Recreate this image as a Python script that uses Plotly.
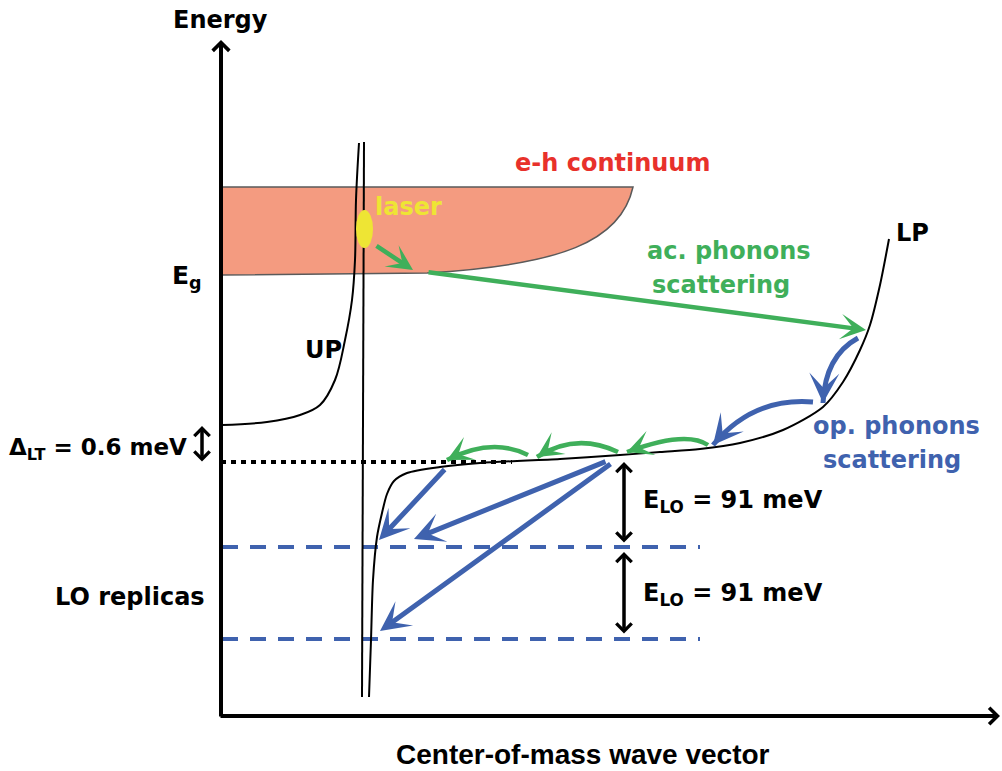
import math
import plotly.graph_objects as go

W, H = 1002, 771

BLUE = "#3F62AE"
GREEN = "#3FAF5A"
RED = "#E8312B"
YELLOW = "#EEE534"
BAND_FILL = "#F49B80"
BAND_EDGE = "#5A5A5A"
FONT = "DejaVu Sans"

# ---- axes (schematic coordinates, y grows downward) ----
axis_x0, axis_y0 = 221, 716
axis_y_tip = 40
axis_x_tip = 1000

# ---- polariton branches ----
up_x = [222, 267, 300, 320, 335, 345, 352, 355, 356, 359]
up_y = [425, 422, 415, 405, 380, 340, 300, 260, 200, 143]

photon_x = [364, 362]
photon_y = [142, 697]

lp_x = [369, 371, 373, 377, 382, 387, 394, 407, 440, 480, 560, 620, 660, 700,
        740, 783, 823, 843, 860, 870, 880, 889]
lp_y = [697, 640, 580, 537, 513, 494, 481, 473, 467, 463, 459, 455, 452, 449,
        443, 430, 407, 382, 350, 325, 285, 239]

# ---- e-h continuum band ----
band_top = 187
band_left = 221
band_right = 633
band_bottom_left = 275
band_edge_ctrl = [(621, 242), (560, 265)]
band_edge_end = (427, 273)

# ---- levels ----
exciton_level = 462
exciton_dots_end = 512
lo_levels = [547, 639]
lo_x = [222, 700]

# ---- double arrows (x, y_top, y_bottom) ----
delta_arrow = (202, 426, 463)
elo_arrows = [(624, 462, 544), (624, 552, 635)]

# ---- straight scattering arrows (x0, y0, x1, y1) ----
green_straight = [(375, 245, 413, 270), (427, 272, 866, 330)]
blue_straight = [(446, 468, 379, 540), (607, 461, 414, 539), (612, 463, 380, 631)]

# ---- curved scattering arrows (start, control, end) ----
blue_curved = [((858, 338), (825, 356), (823, 403)),
               ((813, 402), (753, 397), (713, 445))]
green_curved = [((708, 445), (686, 430), (627, 452)),
                ((618, 452), (576, 432), (537, 457)),
                ((528, 455), (492, 437), (447, 460))]

# ---- laser spot ----
laser_spot = (356, 210, 373, 248)

# ---- text labels ----
label_text = [
    "<b>Energy</b>",
    "<b>e-h continuum</b>",
    "<b>laser</b>",
    "<b>ac. phonons</b>",
    "<b>scattering</b>",
    "<b>LP</b>",
    "<b>UP</b>",
    "<b>E<sub>g</sub></b>",
    "<b>op. phonons</b>",
    "<b>scattering</b>",
    "<b>Δ<sub>LT</sub> = 0.6 meV</b>",
    "<b>E<sub>LO</sub> = 91 meV</b>",
    "<b>E<sub>LO</sub> = 91 meV</b>",
    "<b>LO replicas</b>",
]
label_x = [220, 612, 408, 729, 721, 912, 323, 187, 896, 892, 98, 733, 733, 130]
label_y = [20, 163, 207, 251, 285, 233, 350, 277, 426, 460, 449, 501, 594, 597]
label_color = ["black", RED, YELLOW, GREEN, GREEN, "black", "black", "black",
               BLUE, BLUE, "black", "black", "black", "black"]
label_size = [24, 24, 24, 24, 24, 24, 24, 25, 24, 24, 23, 24, 24, 24]

xaxis_title = "<b>Center-of-mass wave vector</b>"
xaxis_title_pos = (583, 754)

fig = go.Figure()

# continuum band
band_path = (f"M{band_left},{band_top} L{band_right},{band_top} "
             f"C{band_edge_ctrl[0][0]},{band_edge_ctrl[0][1]} "
             f"{band_edge_ctrl[1][0]},{band_edge_ctrl[1][1]} "
             f"{band_edge_end[0]},{band_edge_end[1]} "
             f"L{band_left},{band_bottom_left} Z")
fig.add_shape(type="path", path=band_path, fillcolor=BAND_FILL,
              line=dict(color=BAND_EDGE, width=1.5), layer="below")

# laser spot
fig.add_shape(type="circle", x0=laser_spot[0], y0=laser_spot[1],
              x1=laser_spot[2], y1=laser_spot[3],
              fillcolor=YELLOW, line=dict(width=0))

# LO replica levels
for lv in lo_levels:
    fig.add_trace(go.Scatter(x=lo_x, y=[lv, lv], mode="lines",
                             line=dict(color=BLUE, width=4, dash="16px,12px")))

# exciton level (dotted)
fig.add_trace(go.Scatter(x=[axis_x0, exciton_dots_end],
                         y=[exciton_level, exciton_level], mode="lines",
                         line=dict(color="black", width=4, dash="5px,5px")))

# dispersion branches
fig.add_trace(go.Scatter(x=up_x, y=up_y, mode="lines",
                         line=dict(color="black", width=2, shape="spline")))
fig.add_trace(go.Scatter(x=photon_x, y=photon_y, mode="lines",
                         line=dict(color="black", width=2)))
fig.add_trace(go.Scatter(x=lp_x, y=lp_y, mode="lines",
                         line=dict(color="black", width=2, shape="spline",
                                   smoothing=0.8)))


def arrow(x0, y0, x1, y1, color, width, head=3, size=0.8, both=False):
    fig.add_annotation(x=x1, y=y1, ax=x0, ay=y0, xref="x", yref="y",
                       axref="x", ayref="y", text="", showarrow=True,
                       arrowhead=head, arrowsize=size, arrowwidth=width,
                       arrowcolor=color,
                       arrowside="end+start" if both else "end",
                       startarrowhead=head, startarrowsize=size)


def curved_arrow(p0, c, p1, color, width, size=0.8):
    fig.add_shape(type="path",
                  path=f"M{p0[0]},{p0[1]} Q{c[0]},{c[1]} {p1[0]},{p1[1]}",
                  line=dict(color=color, width=width))
    dx, dy = p1[0] - c[0], p1[1] - c[1]
    n = math.hypot(dx, dy)
    back = 16
    arrow(p1[0] - dx / n * back, p1[1] - dy / n * back, p1[0], p1[1],
          color, width, head=3, size=size)


# axes with chevron heads
arrow(axis_x0, axis_y0 + 2, axis_x0, axis_y_tip, "black", 4, head=4, size=0.8)
arrow(axis_x0 - 2, axis_y0, axis_x_tip, axis_y0, "black", 4, head=4, size=0.8)

# energy-gap double arrows
x, y0, y1 = delta_arrow
arrow(x, y1, x, y0, "black", 3.5, head=4, size=0.85, both=True)
for x, y0, y1 in elo_arrows:
    arrow(x, y1, x, y0, "black", 3.5, head=4, size=0.85, both=True)

# scattering arrows
for x0, y0, x1, y1 in green_straight:
    arrow(x0, y0, x1, y1, GREEN, 4.5, head=3, size=0.95)
for x0, y0, x1, y1 in blue_straight:
    arrow(x0, y0, x1, y1, BLUE, 5, head=3, size=1.0)
for p0, c, p1 in blue_curved:
    curved_arrow(p0, c, p1, BLUE, 5, size=1.0)
for p0, c, p1 in green_curved:
    curved_arrow(p0, c, p1, GREEN, 4.5, size=0.95)

# labels
for t, x, y, col, sz in zip(label_text, label_x, label_y, label_color, label_size):
    fig.add_annotation(x=x, y=y, xref="x", yref="y", text=t, showarrow=False,
                       xanchor="center", yanchor="middle",
                       font=dict(family=FONT, size=sz, color=col))

fig.add_annotation(x=xaxis_title_pos[0], y=xaxis_title_pos[1], xref="x", yref="y",
                   text=xaxis_title, showarrow=False, xanchor="center",
                   yanchor="middle",
                   font=dict(family="Liberation Sans", size=28, color="black"))

fig.update_layout(
    width=W, height=H,
    margin=dict(l=0, r=0, t=0, b=0),
    paper_bgcolor="white", plot_bgcolor="white",
    showlegend=False,
    xaxis=dict(range=[0, W], visible=False, fixedrange=True),
    yaxis=dict(range=[H, 0], visible=False, fixedrange=True),
)

fig.write_html("out.html")
